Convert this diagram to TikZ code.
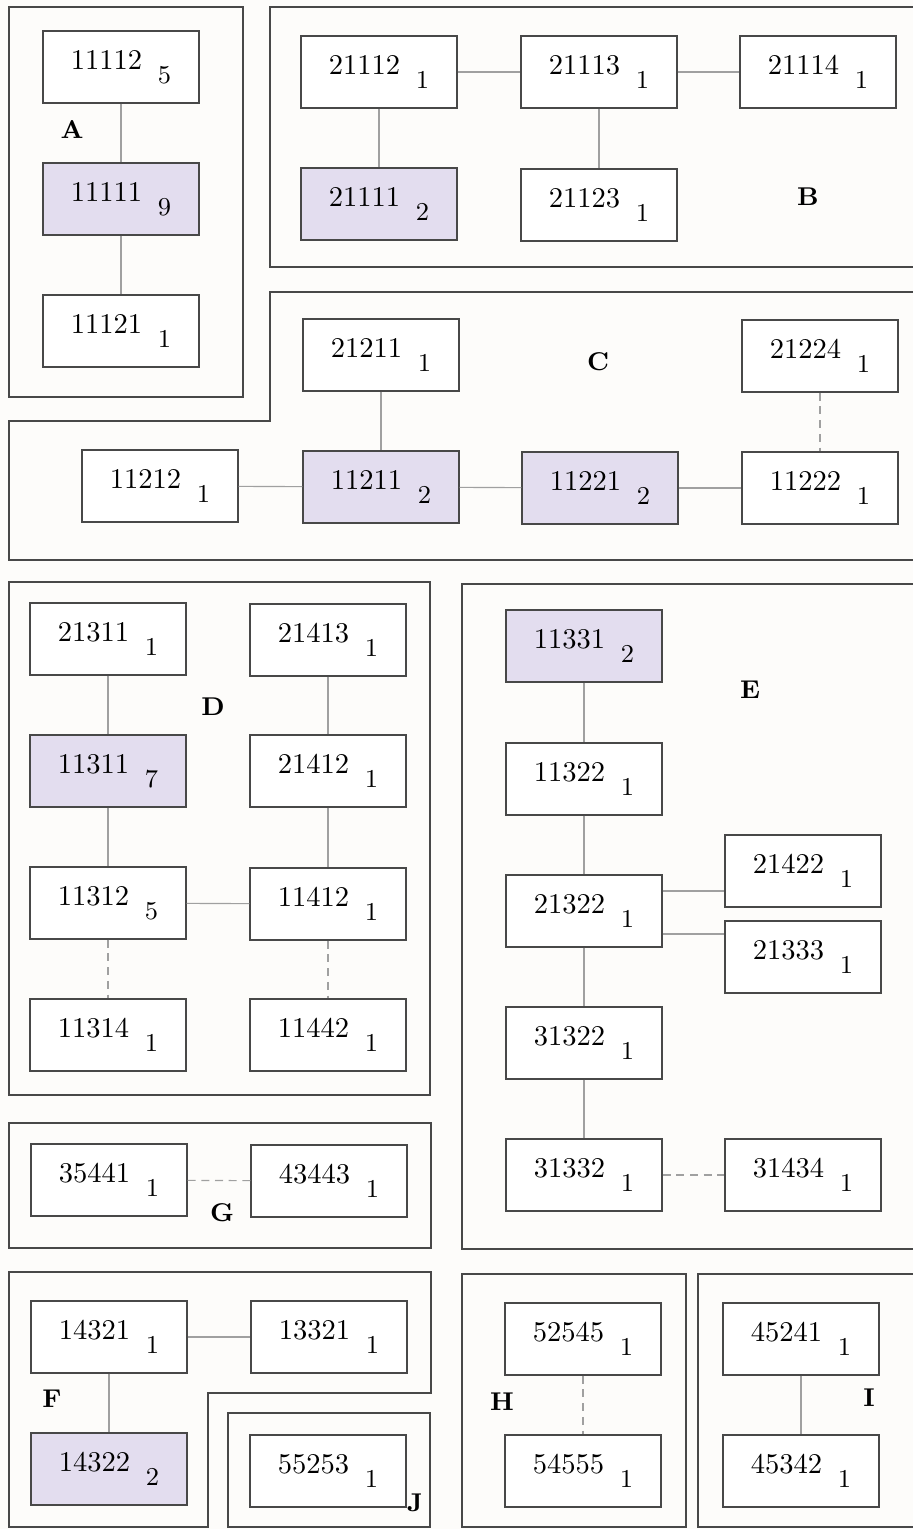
\documentclass[tikz,border=0pt]{standalone}
\usepackage{xcolor}
\usepackage{tikz}
\usetikzlibrary{calc}
\definecolor{rgLine}{RGB}{72,72,72}
\definecolor{rgLink}{RGB}{160,160,160}
\definecolor{rgLav} {RGB}{227,221,239}
\definecolor{rgPaper}{RGB}{253,252,250}
\newcommand{\occ}[2]{#1\hspace{0.55em}\raisebox{-0.5em}{\small #2}}

\begin{document}
\begin{tikzpicture}[x=0.35pt,y=-0.35pt,
  every node/.style={font=\normalsize},
  region/.style={draw=rgLine,line width=0.9pt},
  cell/.style={draw=rgLine,line width=0.7pt,fill=white,minimum width=54.3pt,minimum height=25pt,inner sep=0pt},
  hot/.style={cell,fill=rgLav},
  link/.style={draw=rgLink,line width=0.4pt},
  dlink/.style={link,dash pattern=on 2.8pt off 2pt},
  tag/.style={font=\small\bfseries}
]
\fill[rgPaper] (0,0) rectangle (913,1529);
\useasboundingbox (0,0) rectangle (913,1529);

% regions
\draw[region] (9,7) rectangle (243,397);
\draw[region] (913,7) -- (270,7) -- (270,267) -- (913,267);
\draw[region] (913,292) -- (270,292) -- (270,421) -- (9,421) -- (9,560) -- (913,560);
\draw[region] (9,582) rectangle (430,1095);
\draw[region] (913,584) -- (462,584) -- (462,1249) -- (913,1249);
\draw[region] (9,1123) rectangle (431,1248);
\draw[region] (9,1527) -- (9,1272) -- (431,1272) -- (431,1393) -- (208,1393) -- (208,1527) -- cycle;
\draw[region] (228,1527) -- (228,1413) -- (430,1413) -- (430,1527) -- cycle;
\draw[region] (462,1274) rectangle (686,1527);
\draw[region] (913,1274) -- (698,1274) -- (698,1527) -- (913,1527);

% A
\node[cell] (A1) at (121,67)  {\occ{11112}{5}};
\node[hot]  (A2) at (121,199) {\occ{11111}{9}};
\node[cell] (A3) at (121,331) {\occ{11121}{1}};
\node[tag] at (72,129) {A};
\draw[link] (A1) -- (A2);
\draw[link] (A2) -- (A3);

% B
\node[cell] (B1) at (379,72)  {\occ{21112}{1}};
\node[cell] (B2) at (599,72)  {\occ{21113}{1}};
\node[cell] (B3) at (818,72)  {\occ{21114}{1}};
\node[hot]  (B4) at (379,204) {\occ{21111}{2}};
\node[cell] (B5) at (599,205) {\occ{21123}{1}};
\node[tag] at (808,197) {B};
\draw[link] (B1) -- (B2);
\draw[link] (B2) -- (B3);
\draw[link] (B1) -- (B4);
\draw[link] (B2) -- (B5);

% C
\node[cell] (C1) at (381,355) {\occ{21211}{1}};
\node[cell] (C2) at (820,356) {\occ{21224}{1}};
\node[cell] (C3) at (160,486) {\occ{11212}{1}};
\node[hot]  (C4) at (381,487) {\occ{11211}{2}};
\node[hot]  (C5) at (600,488) {\occ{11221}{2}};
\node[cell] (C6) at (820,488) {\occ{11222}{1}};
\node[tag] at (598,362) {C};
\draw[link] (C1) -- (C4);
\draw[link] (C3) -- (C4);
\draw[link] (C4) -- (C5);
\draw[link] (C5) -- (C6);
\draw[dlink] (C2) -- (C6);

% D
\node[cell] (D1) at (108,639)  {\occ{21311}{1}};
\node[cell] (D2) at (328,640)  {\occ{21413}{1}};
\node[hot]  (D3) at (108,771)  {\occ{11311}{7}};
\node[cell] (D4) at (328,771)  {\occ{21412}{1}};
\node[cell] (D5) at (108,903)  {\occ{11312}{5}};
\node[cell] (D6) at (328,904)  {\occ{11412}{1}};
\node[cell] (D7) at (108,1035) {\occ{11314}{1}};
\node[cell] (D8) at (328,1035) {\occ{11442}{1}};
\node[tag] at (213,707) {D};
\draw[link] (D1) -- (D3);
\draw[link] (D3) -- (D5);
\draw[link] (D2) -- (D4);
\draw[link] (D4) -- (D6);
\draw[link] (D5) -- (D6);
\draw[dlink] (D5) -- (D7);
\draw[dlink] (D6) -- (D8);

% E
\node[hot]  (E1) at (584,646)  {\occ{11331}{2}};
\node[cell] (E2) at (584,779)  {\occ{11322}{1}};
\node[cell] (E3) at (584,911)  {\occ{21322}{1}};
\node[cell] (E4) at (803,871)  {\occ{21422}{1}};
\node[cell] (E5) at (803,957)  {\occ{21333}{1}};
\node[cell] (E6) at (584,1043) {\occ{31322}{1}};
\node[cell] (E7) at (584,1175) {\occ{31332}{1}};
\node[cell] (E8) at (803,1175) {\occ{31434}{1}};
\node[tag] at (750,690) {E};
\coordinate (m1) at ($(E3)!0.5!(E4)$);
\coordinate (m2) at ($(E3)!0.5!(E5)$);
\draw[link] (E1) -- (E2);
\draw[link] (E2) -- (E3);
\draw[link] (E3) -- (E6);
\draw[link] (E6) -- (E7);
\draw[link] (E3.east |- m1) -- (E4.west |- m1);
\draw[link] (E3.east |- m2) -- (E5.west |- m2);
\draw[dlink] (E7) -- (E8);

% G
\node[cell] (G1) at (109,1180) {\occ{35441}{1}};
\node[cell] (G2) at (329,1181) {\occ{43443}{1}};
\node[tag] at (222,1213) {G};
\draw[dlink] (G1) -- (G2);

% F
\node[cell] (F1) at (109,1337) {\occ{14321}{1}};
\node[cell] (F2) at (329,1337) {\occ{13321}{1}};
\node[hot]  (F3) at (109,1469) {\occ{14322}{2}};
\node[tag] at (52,1399) {F};
\draw[link] (F1) -- (F2);
\draw[link] (F1) -- (F3);

% J
\node[cell] (J1) at (328,1471) {\occ{55253}{1}};
\node[tag] at (415,1503) {J};

% H
\node[cell] (H1) at (583,1339) {\occ{52545}{1}};
\node[cell] (H2) at (583,1471) {\occ{54555}{1}};
\node[tag] at (502,1402) {H};
\draw[dlink] (H1) -- (H2);

% I
\node[cell] (I1) at (801,1339) {\occ{45241}{1}};
\node[cell] (I2) at (801,1471) {\occ{45342}{1}};
\node[tag] at (869,1398) {I};
\draw[link] (I1) -- (I2);
\end{tikzpicture}
\end{document}
